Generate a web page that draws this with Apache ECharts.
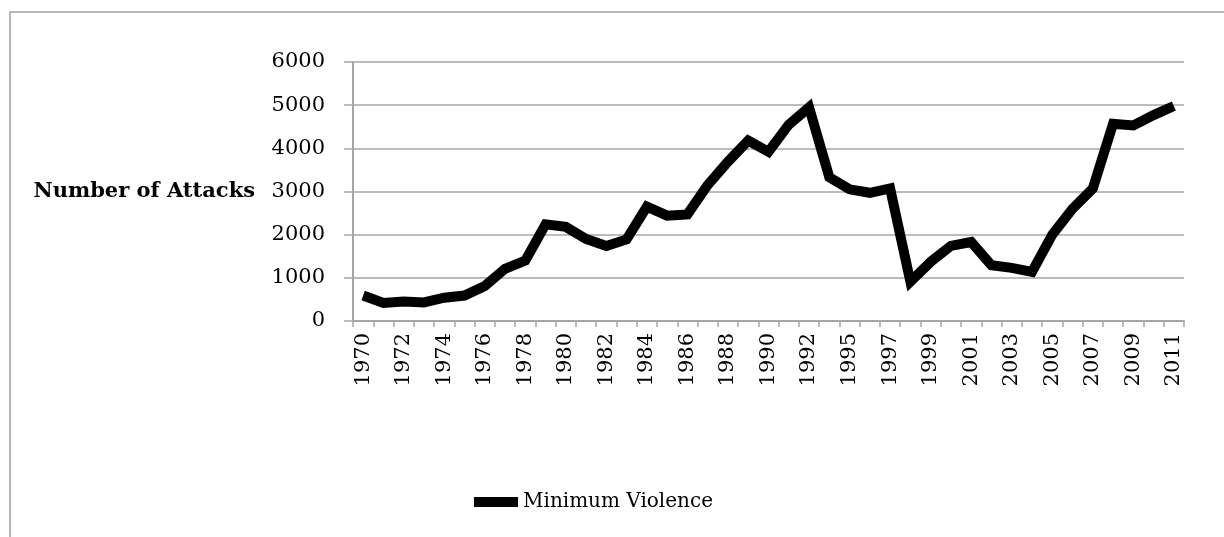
<!DOCTYPE html>
<html>
<head>
<meta charset="utf-8">
<script src="https://cdn.jsdelivr.net/npm/echarts@6/dist/echarts.min.js"></script>
<style>
  html, body { margin: 0; padding: 0; background: #fff; }
  #main { width: 1224px; height: 537px; }
</style>
</head>
<body>
<div id="main"></div>
<script>
// 年份（1993 缺失）
var years = ['1970', '1971', '1972', '1973', '1974', '1975', '1976', '1977', '1978', '1979',
  '1980', '1981', '1982', '1983', '1984', '1985', '1986', '1987', '1988', '1989',
  '1990', '1991', '1992', '1994', '1995', '1996', '1997', '1998', '1999', '2000',
  '2001', '2002', '2003', '2004', '2005', '2006', '2007', '2008', '2009', '2010', '2011'];
var attacks = [590, 420, 450, 430, 540, 590, 810, 1210, 1400, 2240,
  2180, 1900, 1740, 1890, 2650, 2440, 2470, 3150, 3690, 4180,
  3920, 4550, 4950, 3330, 3050, 2970, 3070, 910, 1370, 1740,
  1830, 1290, 1230, 1140, 2000, 2600, 3070, 4570, 4530, 4770, 4980];
var yTicks = [0, 1000, 2000, 3000, 4000, 5000, 6000];
var seriesName = 'Minimum Violence';
var yName = 'Number of Attacks';

var font = 'DejaVu Serif';
var gray = '#a6a6a6';

var option = {
  backgroundColor: '#fff',
  animation: false,
  // 外框
  graphic: [{
    type: 'rect',
    shape: { x: 10, y: 12, width: 1240, height: 560 },
    style: { fill: 'none', stroke: '#a0a0a0', lineWidth: 1.5 },
    silent: true
  }],
  grid: { left: 353, right: 40, top: 62, bottom: 216 },
  legend: {
    data: [seriesName],
    left: 469,
    top: 487,
    icon: 'rect',
    itemWidth: 44,
    itemHeight: 10,
    itemGap: 5,
    textStyle: { fontFamily: font, fontSize: 20, color: '#000' }
  },
  xAxis: {
    type: 'category',
    data: years,
    boundaryGap: true,
    axisLine: { show: true, lineStyle: { color: gray, width: 2 } },
    axisTick: { show: true, interval: 0, length: 6, lineStyle: { color: gray, width: 1.5 } },
    axisLabel: {
      interval: 1,
      rotate: 90,
      margin: 12,
      fontFamily: font,
      fontSize: 21,
      color: '#000'
    },
    splitLine: { show: false }
  },
  yAxis: {
    type: 'value',
    min: yTicks[0],
    max: yTicks[yTicks.length - 1],
    interval: 1000,
    name: yName,
    nameLocation: 'middle',
    nameRotate: 0,
    nameGap: 98,
    nameTextStyle: { fontFamily: font, fontSize: 21, fontWeight: 'bold', color: '#000' },
    axisLine: { show: true, lineStyle: { color: gray, width: 2 } },
    axisTick: { show: true, length: 9, lineStyle: { color: gray, width: 1.5 } },
    axisLabel: {
      margin: 28,
      fontFamily: font,
      fontSize: 21,
      color: '#000',
      formatter: function (v) { return String(v); }
    },
    splitLine: { show: true, lineStyle: { color: gray, width: 1.5 } }
  },
  series: [{
    name: seriesName,
    type: 'line',
    data: attacks,
    showSymbol: false,
    symbol: 'none',
    color: '#000',
    lineStyle: { color: '#000', width: 10, join: 'miter', cap: 'butt' }
  }]
};

var chart = echarts.init(document.getElementById('main'));
chart.setOption(option);
</script>
</body>
</html>
